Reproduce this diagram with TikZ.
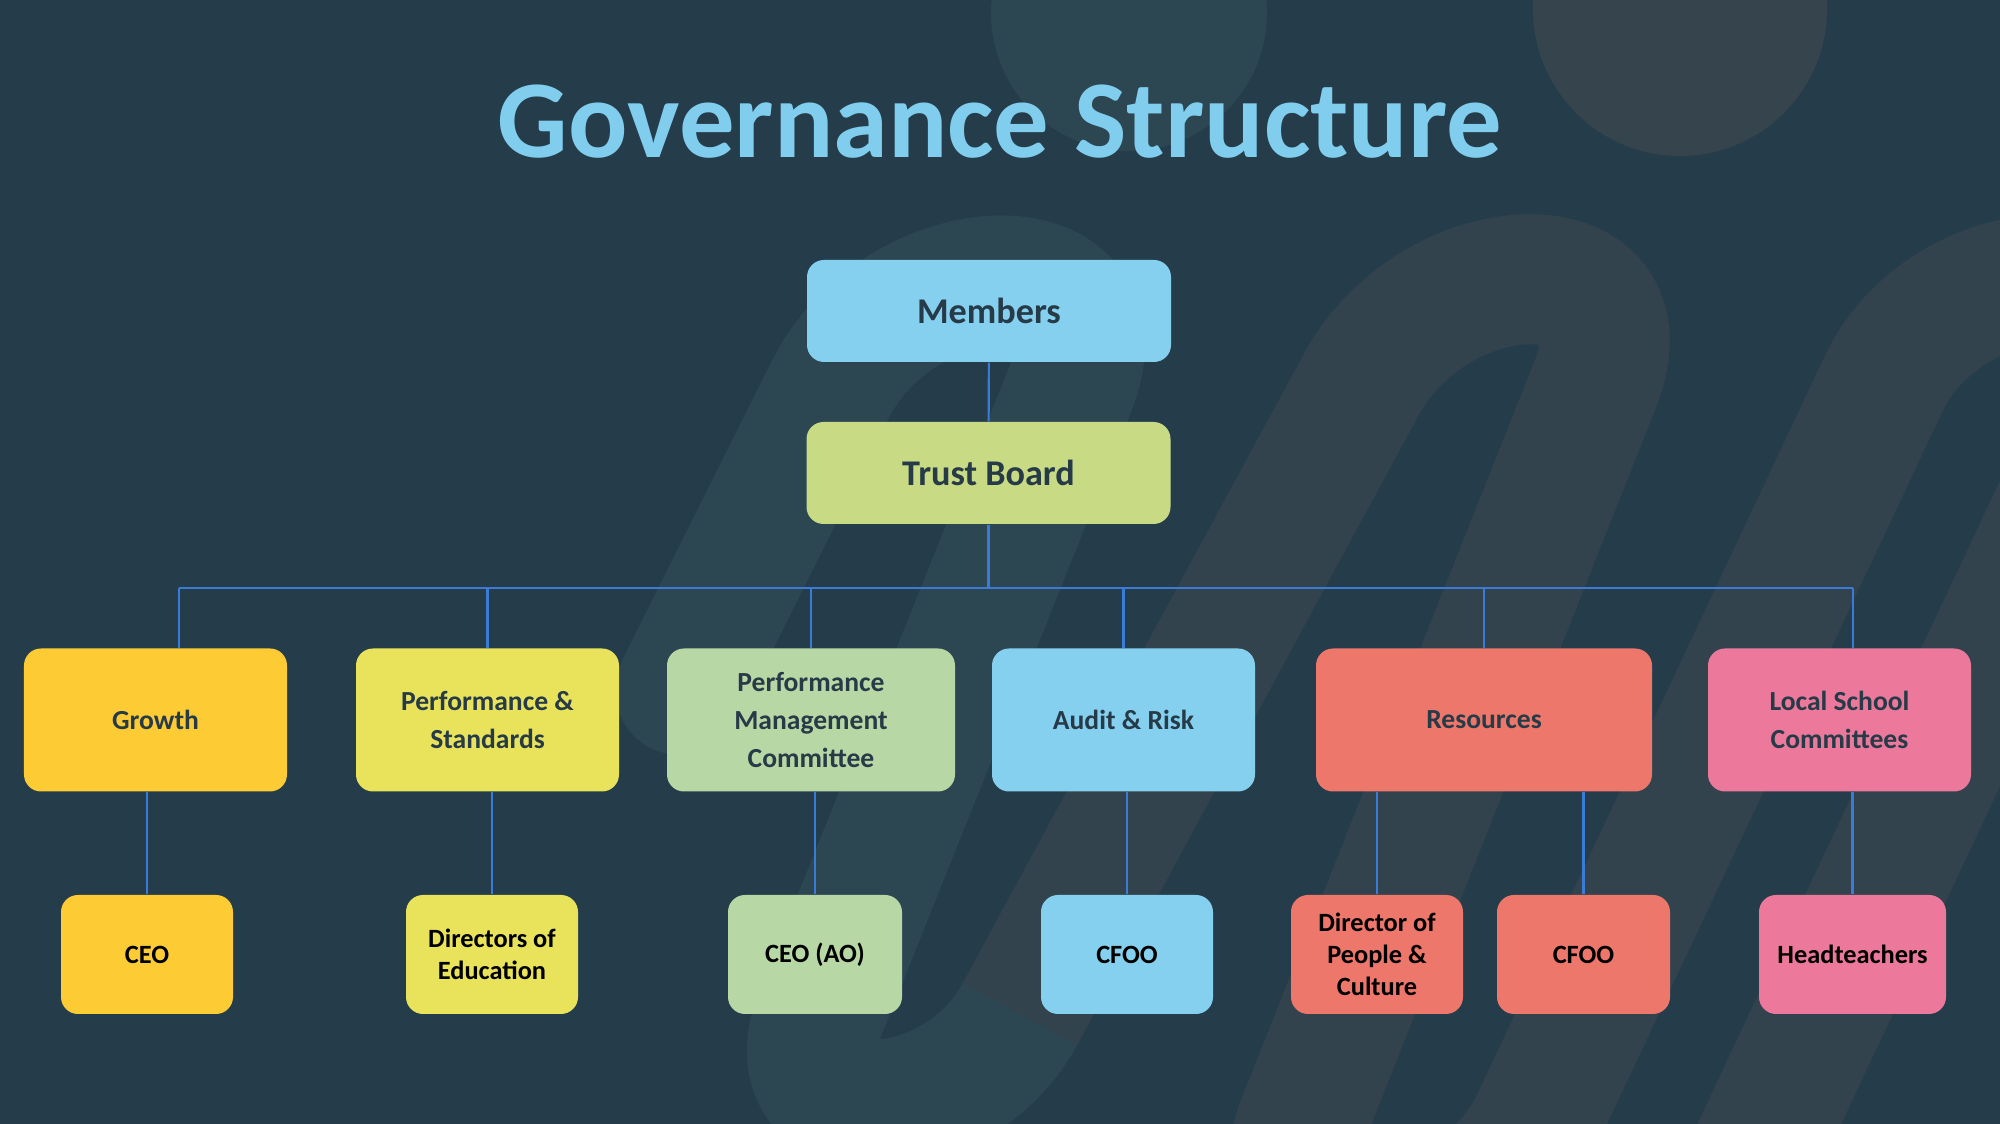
\documentclass[tikz,border=0pt]{standalone}
\usepackage{fontspec}
\setmainfont{Carlito}
\usetikzlibrary{positioning}
\definecolor{bgc}{HTML}{253D4B}
\definecolor{waveteal}{HTML}{2C4652}
\definecolor{wavewarm}{HTML}{33434D}
\definecolor{dotteal}{HTML}{2C4652}
\definecolor{dotwarm}{HTML}{36444D}
\definecolor{titlec}{HTML}{80CDEE}
\definecolor{txtdark}{HTML}{263A47}
\definecolor{linkc}{HTML}{3A7BD5}
\definecolor{skyc}{HTML}{85CFEF}
\definecolor{olivec}{HTML}{C8DA84}
\definecolor{sunc}{HTML}{FDCC34}
\definecolor{lemonc}{HTML}{E8E35B}
\definecolor{sagec}{HTML}{B7D8A5}
\definecolor{coralc}{HTML}{EE776B}
\definecolor{rosec}{HTML}{EC799C}

\begin{document}
\begin{tikzpicture}[
  box/.style={rounded corners=0.17cm, align=center, inner sep=0pt},
  toplvl/.style={box, minimum width=3.64cm, minimum height=1.02cm, text=txtdark,
    font=\fontsize{10.3}{12}\selectfont\bfseries},
  comm/.style={box, minimum width=2.63cm, minimum height=1.43cm, text=txtdark,
    font=\fontsize{7.85}{10.8}\selectfont\bfseries},
  role/.style={box, minimum width=1.72cm, minimum height=1.19cm, text=black,
    font=\fontsize{7.5}{9.1}\selectfont\bfseries},
  link/.style={draw=linkc, line width=0.6pt}]
\useasboundingbox (0,0) rectangle (20,11.24);
\fill[bgc] (0,0) rectangle (20,11.24);
\begin{scope}
\clip (0,0) rectangle (20,11.24);
\fill[dotteal] (11.29,11.11) circle (1.38);
\fill[dotwarm] (16.80,11.15) circle (1.47);
\draw[waveteal, line width=1.3cm, line cap=round, line join=round]
  (6.80,4.34) -- (8.30,7.34) .. controls ++(0.72,1.43) and ++(0.60,1.49) .. (10.70,7.34)
  -- (8.20,1.10) .. controls ++(-0.49,-1.24) and ++(-0.63,-1.17) .. (10.20,1.10);
\draw[wavewarm, line width=1.3cm, line join=round]
  (10.20,1.10) -- (13.61,7.39) .. controls ++(0.74,1.37) and ++(0.58,1.45) .. (15.95,7.39)
  -- (13.03,0.04) .. controls ++(-0.58,-1.45) and ++(-0.66,-1.41) .. (15.37,0.04)
  -- (18.83,7.39) .. controls ++(0.66,1.41) and ++(0.66,1.41) .. (21.17,7.39) -- ++(-4,-8.5);
\end{scope}

\node[font=\fontsize{31.5}{36}\selectfont\bfseries, text=titlec, anchor=base] (title) at (10,9.66) {Governance Structure};

\node[toplvl, fill=skyc] (members) at (9.89,8.13) {Members};
\node[toplvl, fill=olivec] (trust) at (9.885,6.51) {Trust Board};

\node[comm, fill=sunc] (growth) at (1.555,4.04) {Growth};
\node[comm, fill=lemonc] (perfstd) at (4.875,4.04) {Performance \&\\Standards};
\node[comm, fill=sagec, minimum width=2.88cm] (perfmgmt) at (8.11,4.04) {Performance\\Management\\Committee};
\node[comm, fill=skyc] (audit) at (11.235,4.04) {Audit \& Risk};
\node[comm, fill=coralc, minimum width=3.36cm] (resources) at (14.84,4.04) {Resources};
\node[comm, fill=rosec] (local) at (18.395,4.04) {Local School\\Committees};

\node[role, fill=sunc] (ceo) at (1.47,1.695) {CEO};
\node[role, fill=lemonc] (dired) at (4.92,1.695) {Directors of\\Education};
\node[role, fill=sagec, minimum width=1.74cm] (ceoao) at (8.15,1.695) {CEO (AO)};
\node[role, fill=skyc] (cfooa) at (11.27,1.695) {CFOO};
\node[role, fill=coralc] (dirpeople) at (13.77,1.695) {Director of\\People \&\\Culture};
\node[role, fill=coralc, minimum width=1.73cm] (cfoor) at (15.835,1.695) {CFOO};
\node[role, fill=rosec, minimum width=1.87cm] (head) at (18.525,1.695) {Headteachers};

\coordinate (busL) at (1.79,5.36);
\coordinate (busR) at (18.53,5.36);
\draw[link] (members) -- (trust);
\draw[link] (trust) -- (trust |- busL);
\draw[link] (busL) -- (busR);
\draw[link] (busL) -- (busL |- growth.north);
\draw[link] (busR) -- (busR |- local.north);
\foreach \n in {perfstd,perfmgmt,audit,resources}
  \draw[link] (\n.north) -- (\n.north |- busL);
\foreach \a/\b in {growth/ceo,perfstd/dired,perfmgmt/ceoao,audit/cfooa,resources/dirpeople,resources/cfoor,local/head}
  \draw[link] (\b.north) -- (\b.north |- \a.south);
\end{tikzpicture}
\end{document}
